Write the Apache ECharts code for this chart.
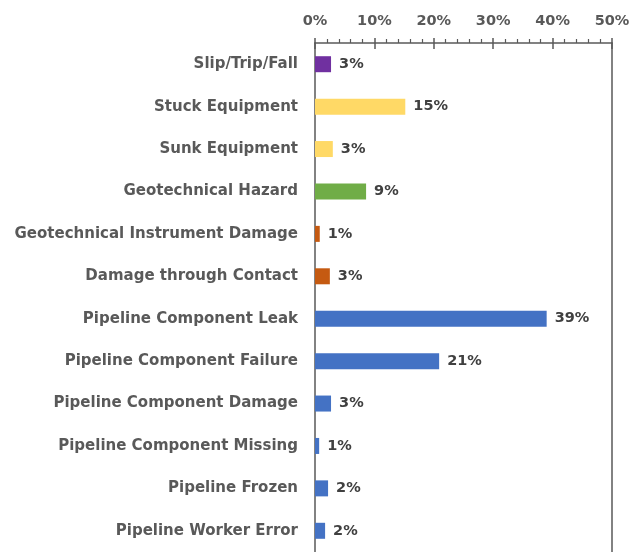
<!DOCTYPE html>
<html>
<head>
<meta charset="utf-8">
<script src="https://cdn.jsdelivr.net/npm/echarts@6/dist/echarts.min.js"></script>
<style>
  html, body { margin: 0; padding: 0; background: #fff; }
  #chart { width: 642px; height: 552px; }
</style>
</head>
<body>
<div id="chart"></div>
<script>
// categories, top to bottom
const categories = [
  'Slip/Trip/Fall',
  'Stuck Equipment',
  'Sunk Equipment',
  'Geotechnical Hazard',
  'Geotechnical Instrument Damage',
  'Damage through Contact',
  'Pipeline Component Leak',
  'Pipeline Component Failure',
  'Pipeline Component Damage',
  'Pipeline Component Missing',
  'Pipeline Frozen',
  'Pipeline Worker Error'
]
// share of incidents, percent
const shares = [2.7, 15.2, 3.0, 8.6, 0.8, 2.5, 39.0, 20.9, 2.7, 0.7, 2.2, 1.7]
const xTicks = [0, 10, 20, 30, 40, 50]

// bar colour for each category group
const barColors = [
  '#7030A0', '#FFD966', '#FFD966', '#70AD47', '#C55A11', '#C55A11',
  '#4472C4', '#4472C4', '#4472C4', '#4472C4', '#4472C4', '#4472C4'
]

const chart = echarts.init(document.getElementById('chart'))
const font = 'DejaVu Sans, Verdana, sans-serif'
const axisColor = '#595959'

const option = {
  animation: false,
  grid: { left: 315, right: 30, top: 43, bottom: -2 },
  xAxis: [
    {
      type: 'value',
      position: 'top',
      min: xTicks[0],
      max: xTicks[xTicks.length - 1],
      interval: 10,
      axisLine: { show: true, lineStyle: { color: axisColor, width: 1.5 } },
      axisTick: { show: true, length: 5, lineStyle: { color: axisColor, width: 1.5 } },
      minorTick: { show: true, splitNumber: 5, length: 4, lineStyle: { color: axisColor, width: 1.2 } },
      splitLine: { show: false },
      axisLabel: {
        margin: 14,
        color: axisColor,
        fontFamily: font,
        fontWeight: 'bold',
        fontSize: 14.5,
        formatter: v => v + '%'
      }
    },
    {
      // inward half of the major ticks
      type: 'value',
      position: 'top',
      min: xTicks[0],
      max: xTicks[xTicks.length - 1],
      interval: 10,
      axisLine: { show: false },
      axisTick: { show: true, inside: true, length: 6, lineStyle: { color: axisColor, width: 1.5 } },
      axisLabel: { show: false },
      splitLine: { show: false }
    }
  ],
  yAxis: [
    {
      type: 'category',
      inverse: true,
      data: categories,
      axisLine: { show: true, lineStyle: { color: axisColor, width: 1.5 } },
      axisTick: { show: false },
      axisLabel: {
        margin: 17,
        color: axisColor,
        fontFamily: font,
        fontWeight: 'bold',
        fontSize: 15
      }
    },
    {
      // right-hand frame line
      type: 'category',
      position: 'right',
      inverse: true,
      data: categories,
      axisLine: { show: true, onZero: false, lineStyle: { color: axisColor, width: 1.5 } },
      axisTick: { show: false },
      axisLabel: { show: false }
    }
  ],
  series: [
    {
      type: 'bar',
      barWidth: 16,
      data: shares.map((v, i) => ({ value: v, itemStyle: { color: barColors[i] } })),
      label: {
        show: true,
        position: 'right',
        distance: 8,
        color: '#404040',
        fontFamily: font,
        fontWeight: 'bold',
        fontSize: 14.5,
        formatter: p => Math.round(p.value) + '%'
      }
    }
  ]
}

chart.setOption(option)
</script>
</body>
</html>
